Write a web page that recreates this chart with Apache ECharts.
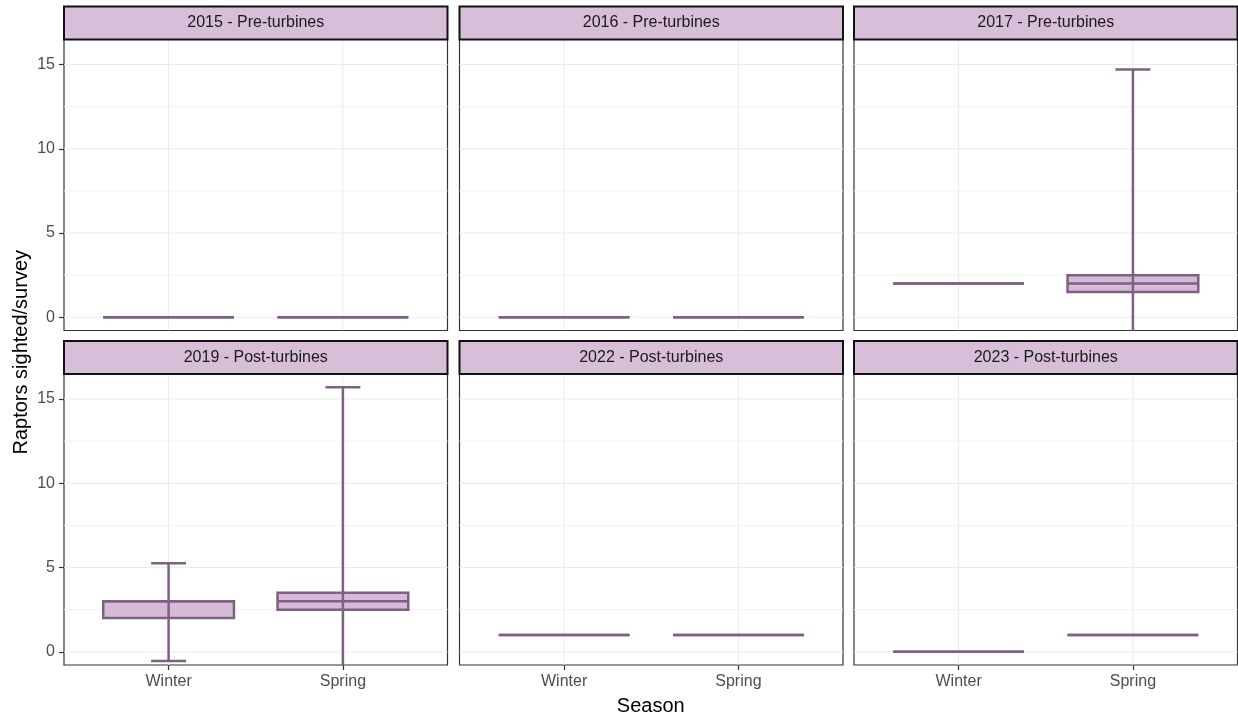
<!DOCTYPE html>
<html>
<head>
<meta charset="utf-8">
<script src="https://cdn.jsdelivr.net/npm/echarts@6/dist/echarts.min.js"></script>
<style>
html,body{margin:0;padding:0;background:#fff;}
#chart{width:1238px;height:719px;}
</style>
</head>
<body>
<div id="chart"></div>
<script>
// ---- data ----
const panels = ['2015 - Pre-turbines', '2016 - Pre-turbines', '2017 - Pre-turbines',
                '2019 - Post-turbines', '2022 - Post-turbines', '2023 - Post-turbines'];
const seasons = ['Winter', 'Spring'];
// [whisker low, Q1, median, Q3, whisker high]
const winterStats = [
  [0, 0, 0, 0, 0],
  [0, 0, 0, 0, 0],
  [2, 2, 2, 2, 2],
  [-0.55, 2, 3, 3, 5.25],
  [1, 1, 1, 1, 1],
  [0, 0, 0, 0, 0]
];
const springStats = [
  [0, 0, 0, 0, 0],
  [0, 0, 0, 0, 0],
  [-10.7, 1.5, 2, 2.5, 14.7],
  [-9.7, 2.5, 3, 3.5, 15.7],
  [1, 1, 1, 1, 1],
  [1, 1, 1, 1, 1]
];
const yTicks = [0, 5, 10, 15];
const yMinor = [2.5, 7.5, 12.5];
const xTicks = [1, 2];

// ---- layout / style ----
const Y_MIN = -0.785, Y_MAX = 16.485, X_MIN = 0.4, X_MAX = 2.6;
const BOX_W = 0.75, CAP_W = 0.2;
const LEFTS = [64, 459.5, 854], PW = 383.5;
const TOPS = [39.5, 374], PH = 291, STRIP_H = 33;
const STROKE = '#7E6182', FILL = '#D6BBD8', STRIP_FILL = '#D7BFD9';
const FONT = '"Liberation Sans", Arial, sans-serif';

const grids = [], xAxes = [], yAxes = [], series = [], graphics = [];

function renderGridLines(params, api) {
  const children = [];
  yMinor.forEach(v => {
    const a = api.coord([X_MIN, v]), b = api.coord([X_MAX, v]);
    children.push({type: 'line', shape: {x1: a[0], y1: a[1], x2: b[0], y2: b[1]},
      style: {stroke: '#f2f2f2', lineWidth: 1}});
  });
  yTicks.forEach(v => {
    const a = api.coord([X_MIN, v]), b = api.coord([X_MAX, v]);
    children.push({type: 'line', shape: {x1: a[0], y1: a[1], x2: b[0], y2: b[1]},
      style: {stroke: '#ebebeb', lineWidth: 1}});
  });
  xTicks.forEach(v => {
    const a = api.coord([v, Y_MIN]), b = api.coord([v, Y_MAX]);
    children.push({type: 'line', shape: {x1: a[0], y1: a[1], x2: b[0], y2: b[1]},
      style: {stroke: '#ebebeb', lineWidth: 1}});
  });
  return {type: 'group', children};
}

function renderBox(params, api) {
  const x = api.value(0), lo = api.value(1), q1 = api.value(2), md = api.value(3), q3 = api.value(4), hi = api.value(5);
  const cx = api.coord([x, md])[0];
  const bw = api.size([BOX_W, 0])[0];
  const cw = api.size([CAP_W, 0])[0];
  const yLo = api.coord([x, lo])[1], yHi = api.coord([x, hi])[1];
  const yQ1 = api.coord([x, q1])[1], yQ3 = api.coord([x, q3])[1], yMd = api.coord([x, md])[1];
  const st = {stroke: STROKE, lineWidth: 2.5, fill: null};
  const children = [];
  children.push({type: 'rect', shape: {x: cx - bw / 2, y: yQ3, width: bw, height: yQ1 - yQ3},
    style: {fill: FILL, stroke: STROKE, lineWidth: 2.5}});
  if (hi > lo) {
    children.push({type: 'line', shape: {x1: cx, y1: yLo, x2: cx, y2: yHi}, style: st});
    children.push({type: 'line', shape: {x1: cx - cw / 2, y1: yHi, x2: cx + cw / 2, y2: yHi}, style: st});
    children.push({type: 'line', shape: {x1: cx - cw / 2, y1: yLo, x2: cx + cw / 2, y2: yLo}, style: st});
  }
  children.push({type: 'line', shape: {x1: cx - bw / 2, y1: yMd, x2: cx + bw / 2, y2: yMd}, style: st});
  return {type: 'group', children};
}

panels.forEach((name, i) => {
  const row = Math.floor(i / 3), col = i % 3;
  const left = LEFTS[col], top = TOPS[row];
  grids.push({left: left, top: top, width: PW, height: PH, show: true,
    backgroundColor: '#fff', borderColor: '#333333', borderWidth: 1.2, containLabel: false});
  xAxes.push({type: 'value', gridIndex: i, min: X_MIN, max: X_MAX, position: 'bottom',
    axisLine: {show: false, onZero: false}, splitLine: {show: false},
    axisTick: {show: row === 1, inside: false, customValues: xTicks, length: 5, lineStyle: {color: '#333333', width: 1.2}},
    axisLabel: {show: row === 1, customValues: xTicks, margin: 9, fontSize: 16, color: '#4D4D4D',
      fontFamily: FONT, formatter: v => seasons[Math.round(v) - 1]}});
  yAxes.push({type: 'value', gridIndex: i, min: Y_MIN, max: Y_MAX, position: 'left',
    axisLine: {show: false, onZero: false}, splitLine: {show: false},
    axisTick: {show: col === 0, inside: false, customValues: yTicks, length: 5, lineStyle: {color: '#333333', width: 1.2}},
    axisLabel: {show: col === 0, customValues: yTicks, margin: 9, fontSize: 16, color: '#4D4D4D',
      fontFamily: FONT}});
  series.push({type: 'custom', xAxisIndex: i, yAxisIndex: i, z: 1, silent: true,
    renderItem: renderGridLines, data: [[1, 1]], clip: true});
  const data = [[1].concat(winterStats[i]), [2].concat(springStats[i])];
  series.push({type: 'custom', name: name, xAxisIndex: i, yAxisIndex: i, z: 3,
    renderItem: renderBox, data: data, clip: true, encode: {x: 0, y: [1, 2, 3, 4, 5]}});
  graphics.push({type: 'rect', z: 10,
    shape: {x: left, y: top - STRIP_H, width: PW, height: STRIP_H},
    style: {fill: STRIP_FILL, stroke: '#111111', lineWidth: 2}});
  graphics.push({type: 'text', z: 11, x: left + PW / 2, y: top - STRIP_H / 2,
    style: {text: name, fill: '#1A1A1A', font: '16px ' + FONT, textAlign: 'center', textVerticalAlign: 'middle'}});
});

graphics.push({type: 'text', x: 21, y: (TOPS[0] + TOPS[1] + PH) / 2, rotation: Math.PI / 2,
  style: {text: 'Raptors sighted/survey', fill: '#000', font: '20px ' + FONT, textAlign: 'center', textVerticalAlign: 'middle'}});
graphics.push({type: 'text', x: LEFTS[0] + (LEFTS[2] + PW - LEFTS[0]) / 2, y: 706,
  style: {text: 'Season', fill: '#000', font: '20px ' + FONT, textAlign: 'center', textVerticalAlign: 'middle'}});

const chart = echarts.init(document.getElementById('chart'), null, {renderer: 'canvas'});
chart.setOption({
  animation: false,
  backgroundColor: '#fff',
  grid: grids,
  xAxis: xAxes,
  yAxis: yAxes,
  series: series,
  graphic: graphics
});
</script>
</body>
</html>
